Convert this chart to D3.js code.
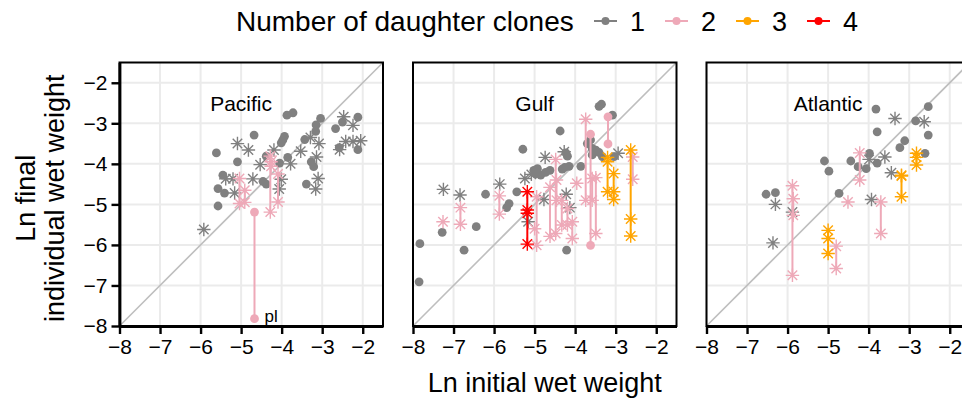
<!DOCTYPE html>
<html>
<head>
<meta charset="utf-8">
<script src="https://cdn.jsdelivr.net/npm/d3@7"></script>
<style>
  body { margin: 0; background: #fff; }
  svg { font-family: "Liberation Sans", Arial, Helvetica, sans-serif; display: block; }
</style>
</head>
<body>
<svg id="chart"></svg>
<script>
// --- data ---
const regions = ['Pacific', 'Gulf', 'Atlantic'];
const cloneCounts = [1, 2, 3, 4];
const cloneColours = ['#808080', '#eea9b8', '#ffa500', '#ff0000'];
const axisTicks = [-8, -7, -6, -5, -4, -3, -2];
const axisDomain = [-8, -1.5];

// rows: [ln initial wet weight, daughter clones, marker ('o' dot, '*' star), ln final weights...]
const pacific = [
  [-3.87, 1, 'o', -2.80], [-3.72, 1, 'o', -2.74], [-2.12, 1, 'o', -2.85], [-2.67, 1, 'o', -3.13],
  [-2.50, 1, 'o', -2.97], [-3.04, 1, 'o', -2.88], [-3.15, 1, 'o', -3.04], [-3.16, 1, 'o', -3.20],
  [-4.68, 1, 'o', -3.29], [-3.93, 1, 'o', -3.32], [-3.97, 1, 'o', -3.41], [-4.01, 1, 'o', -3.48],
  [-3.43, 1, 'o', -3.40], [-5.61, 1, 'o', -3.73], [-5.09, 1, 'o', -3.95], [-2.12, 1, 'o', -3.65],
  [-2.58, 1, 'o', -3.60], [-4.38, 1, 'o', -3.81], [-3.85, 1, 'o', -3.84], [-4.05, 1, 'o', -3.98],
  [-3.27, 1, 'o', -3.95], [-3.21, 1, 'o', -4.07], [-5.45, 1, 'o', -4.28], [-4.46, 1, 'o', -4.43],
  [-4.38, 1, 'o', -4.50], [-3.39, 1, 'o', -4.50], [-5.57, 1, 'o', -4.61], [-5.41, 1, 'o', -4.72],
  [-5.57, 1, 'o', -5.04],
  [-2.47, 1, '*', -2.84], [-2.24, 1, '*', -3.05], [-2.57, 1, '*', -3.65], [-2.42, 1, '*', -3.45],
  [-2.24, 1, '*', -3.45], [-2.05, 1, '*', -3.43], [-5.09, 1, '*', -3.50], [-4.82, 1, '*', -3.66],
  [-3.29, 1, '*', -3.35], [-3.08, 1, '*', -3.50], [-3.53, 1, '*', -3.69], [-4.19, 1, '*', -3.66],
  [-4.53, 1, '*', -4.02], [-3.78, 1, '*', -4.00], [-3.14, 1, '*', -3.83], [-3.10, 1, '*', -4.36],
  [-3.16, 1, '*', -4.62], [-5.38, 1, '*', -4.37], [-5.20, 1, '*', -4.37], [-4.71, 1, '*', -4.37],
  [-4.01, 1, '*', -4.38], [-5.16, 1, '*', -4.72], [-4.06, 1, '*', -4.62], [-5.92, 1, '*', -5.62],
  [-5.04, 2, '*', -4.36, -4.98], [-4.91, 2, '*', -4.65, -4.95], [-4.67, 2, 'o', -5.19, -7.82],
  [-4.28, 2, '*', -3.81, -5.19], [-4.26, 2, '*', -3.95, -4.06], [-4.09, 2, '*', -4.25, -4.94]
];

const gulf = [
  [-7.83, 1, 'o', -5.97], [-7.85, 1, 'o', -6.91], [-7.28, 1, 'o', -5.69], [-6.74, 1, 'o', -6.13],
  [-6.44, 1, 'o', -5.55], [-6.21, 1, 'o', -4.75], [-5.69, 1, 'o', -5.08], [-5.63, 1, 'o', -4.98],
  [-5.44, 1, 'o', -4.69], [-5.29, 1, 'o', -3.64], [-4.37, 1, 'o', -3.19], [-5.02, 1, 'o', -4.16],
  [-4.93, 1, 'o', -4.12], [-4.85, 1, 'o', -4.28], [-4.73, 1, 'o', -4.21], [-4.62, 1, 'o', -4.16],
  [-4.32, 1, 'o', -4.13], [-4.26, 1, 'o', -4.09], [-4.15, 1, 'o', -4.06], [-4.19, 1, 'o', -3.81],
  [-4.23, 1, 'o', -3.73], [-3.86, 1, 'o', -4.06], [-3.41, 1, 'o', -2.58], [-3.35, 1, 'o', -2.53],
  [-3.08, 1, 'o', -2.80], [-3.70, 1, 'o', -3.50], [-3.62, 1, 'o', -3.41], [-3.58, 1, 'o', -3.62],
  [-3.49, 1, 'o', -3.66], [-3.58, 1, 'o', -3.78], [-3.41, 1, 'o', -3.72], [-3.33, 1, 'o', -3.82],
  [-3.04, 1, 'o', -3.82], [-4.21, 1, 'o', -6.13], [-4.98, 1, 'o', -4.25],
  [-7.25, 1, '*', -4.63], [-6.84, 1, '*', -4.77], [-5.86, 1, '*', -4.50], [-5.24, 1, '*', -4.36],
  [-5.08, 1, '*', -4.26], [-4.74, 1, '*', -3.84], [-4.27, 1, '*', -3.70], [-4.77, 1, '*', -4.88],
  [-4.22, 1, '*', -4.75], [-4.13, 1, '*', -5.08], [-2.94, 1, '*', -3.74], [-5.16, 1, '*', -5.43],
  [-7.26, 2, '*', -5.43], [-6.83, 2, '*', -5.08, -5.49], [-5.87, 2, '*', -4.79, -5.24],
  [-4.95, 2, '*', -4.81, -6.01], [-5.00, 2, '*', -5.60], [-4.62, 2, '*', -4.58, -5.79],
  [-4.48, 2, '*', -3.89, -5.72], [-4.46, 2, '*', -4.40, -4.90], [-4.33, 2, '*', -4.90, -5.51],
  [-4.19, 2, '*', -5.10, -5.51], [-4.07, 2, '*', -5.43, -5.84], [-3.96, 2, '*', -4.48],
  [-3.74, 2, '*', -2.90, -4.90], [-3.62, 2, 'o', -3.27, -6.01], [-3.58, 2, '*', -4.36, -4.90],
  [-3.49, 2, '*', -4.34, -5.72], [-3.19, 2, 'o', -2.84, -3.51], [-2.58, 2, '*', -3.83, -4.38],
  [-3.20, 3, '*', -3.84, -3.95, -4.69], [-3.05, 3, '*', -4.24, -4.69, -4.88],
  [-2.63, 3, '*', -3.66, -5.36, -5.78],
  [-5.18, 4, '*', -4.69, -5.14, -5.22, -5.98]
];

const atlantic = [
  [-6.53, 1, 'o', -4.75], [-6.30, 1, 'o', -4.71], [-5.09, 1, 'o', -3.93], [-4.98, 1, 'o', -4.18],
  [-4.73, 1, 'o', -4.73], [-4.44, 1, 'o', -3.93], [-4.26, 1, 'o', -4.07], [-4.06, 1, 'o', -4.12],
  [-3.98, 1, 'o', -3.74], [-3.79, 1, 'o', -3.98], [-3.82, 1, 'o', -2.65], [-3.79, 1, 'o', -3.21],
  [-3.23, 1, 'o', -3.60], [-3.11, 1, 'o', -3.43], [-2.84, 1, 'o', -2.94], [-2.53, 1, 'o', -2.59],
  [-2.53, 1, 'o', -3.29], [-2.61, 1, 'o', -3.74],
  [-6.30, 1, '*', -5.00], [-5.88, 1, '*', -5.19], [-6.36, 1, '*', -5.95], [-3.99, 1, '*', -3.89],
  [-3.60, 1, '*', -3.83], [-3.35, 1, '*', -2.88], [-2.63, 1, '*', -2.96], [-3.44, 1, '*', -4.22],
  [-3.93, 1, '*', -4.88],
  [-5.88, 2, '*', -4.54, -6.75], [-5.86, 2, '*', -4.86, -5.27], [-4.22, 2, '*', -3.73, -4.40],
  [-4.51, 2, '*', -4.94], [-3.70, 2, '*', -4.94, -5.72], [-4.80, 2, '*', -6.03, -6.58],
  [-5.00, 3, '*', -5.64, -5.84, -6.21], [-3.19, 3, '*', -4.28, -4.30, -4.81],
  [-2.82, 3, '*', -3.74, -3.84, -4.03]
];

const pointLabels = [{ region: 'Pacific', x: -4.67, y: -7.82, text: 'pl' }];

// 8-armed star like ggplot shape 8
const starSymbol = {
  draw(context, size) {
    const r = Math.sqrt(size) / 2;
    const a = r * Math.SQRT1_2;
    context.moveTo(0, -r); context.lineTo(0, r);
    context.moveTo(-r, 0); context.lineTo(r, 0);
    context.moveTo(-a, -a); context.lineTo(a, a);
    context.moveTo(-a, a); context.lineTo(a, -a);
  }
};

class CloneScatter {

  constructor(_config, _data) {
    this.config = {
      parentElement: _config.parentElement,
      containerWidth: _config.containerWidth || 962,
      containerHeight: _config.containerHeight || 406,
      panelLefts: _config.panelLefts || [119.5, 413, 706.5],
      panelTop: _config.panelTop || 62.5,
      panelSize: _config.panelSize || 263.5
    };
    this.data = _data;
    this.initVis();
  }

  initVis() {
    let vis = this;
    const size = vis.config.panelSize;

    vis.svg = d3.select(vis.config.parentElement)
      .attr('width', vis.config.containerWidth)
      .attr('height', vis.config.containerHeight);

    vis.xScale = d3.scaleLinear().domain(axisDomain).range([0, size]);
    vis.yScale = d3.scaleLinear().domain(axisDomain).range([size, 0]);
    vis.colour = d3.scaleOrdinal().domain(cloneCounts).range(cloneColours);

    vis.star = d3.symbol().type(starSymbol).size(180);

    vis.panels = vis.svg.selectAll('.panel')
      .data(regions)
      .join('g')
      .attr('class', 'panel')
      .attr('transform', (d, i) => `translate(${vis.config.panelLefts[i]},${vis.config.panelTop})`);

    // grid
    vis.panels.each(function() {
      const g = d3.select(this);
      g.selectAll('.vgrid').data(axisTicks).join('line')
        .attr('x1', d => vis.xScale(d)).attr('x2', d => vis.xScale(d))
        .attr('y1', 0).attr('y2', size)
        .attr('stroke', '#ebebeb').attr('stroke-width', 2);
      g.selectAll('.hgrid').data(axisTicks).join('line')
        .attr('y1', d => vis.yScale(d)).attr('y2', d => vis.yScale(d))
        .attr('x1', 0).attr('x2', size)
        .attr('stroke', '#ebebeb').attr('stroke-width', 2);
      // 1:1 line
      g.append('line')
        .attr('x1', vis.xScale(axisDomain[0])).attr('y1', vis.yScale(axisDomain[0]))
        .attr('x2', vis.xScale(axisDomain[1])).attr('y2', vis.yScale(axisDomain[1]))
        .attr('stroke', '#bebebe').attr('stroke-width', 1.6);
    });

    // facet labels
    vis.panels.append('text')
      .attr('x', vis.xScale(-5))
      .attr('y', vis.yScale(-2.5))
      .attr('dy', '0.36em')
      .attr('text-anchor', 'middle')
      .style('font-size', '21px')
      .text(d => d);

    vis.renderVis();
  }

  renderVis() {
    let vis = this;
    const size = vis.config.panelSize;

    vis.panels.each(function(region) {
      const g = d3.select(this);
      const rows = vis.data[region]
        .map(r => ({ x: r[0], clones: r[1], marker: r[2], ys: r.slice(3) }))
        .sort((a, b) => a.clones - b.clones);

      const fam = g.selectAll('.family').data(rows).join('g').attr('class', 'family');

      fam.filter(d => d.ys.length > 1).append('line')
        .attr('x1', d => vis.xScale(d.x)).attr('x2', d => vis.xScale(d.x))
        .attr('y1', d => vis.yScale(d3.max(d.ys))).attr('y2', d => vis.yScale(d3.min(d.ys)))
        .attr('stroke', d => vis.colour(d.clones))
        .attr('stroke-width', 2);

      fam.each(function(d) {
        const pts = d3.select(this).selectAll('.pt')
          .data(d.ys.map(y => ({ x: d.x, y: y, clones: d.clones, marker: d.marker })))
          .join(enter => enter.append(p => document.createElementNS('http://www.w3.org/2000/svg', p.marker === 'o' ? 'circle' : 'path')))
          .attr('class', 'pt');
        pts.filter(p => p.marker === 'o')
          .attr('cx', p => vis.xScale(p.x))
          .attr('cy', p => vis.yScale(p.y))
          .attr('r', 4.4)
          .attr('fill', p => vis.colour(p.clones));
        pts.filter(p => p.marker === '*')
          .attr('transform', p => `translate(${vis.xScale(p.x)},${vis.yScale(p.y)})`)
          .attr('d', vis.star)
          .attr('fill', 'none')
          .attr('stroke', p => vis.colour(p.clones))
          .attr('stroke-width', 1.4);
      });

      g.selectAll('.pt-label')
        .data(pointLabels.filter(l => l.region === region))
        .join('text')
        .attr('class', 'pt-label')
        .attr('x', l => vis.xScale(l.x) + 10)
        .attr('y', l => vis.yScale(l.y))
        .attr('dy', '0.2em')
        .style('font-size', '17px')
        .text(l => l.text);

      // frame
      g.append('rect')
        .attr('width', size).attr('height', size)
        .attr('fill', 'none').attr('stroke', '#000').attr('stroke-width', 2);

      // x axis on every panel
      const xAxisG = g.append('g')
        .attr('transform', `translate(0,${size})`)
        .call(d3.axisBottom(vis.xScale).tickValues(axisTicks).tickFormat(d3.format('d'))
          .tickSize(8).tickPadding(5).tickSizeOuter(0));
      vis.styleAxis(xAxisG);
    });

    // y axis only on the first panel
    const yAxisG = vis.panels.filter((d, i) => i === 0).append('g')
      .call(d3.axisLeft(vis.yScale).tickValues(axisTicks).tickFormat(d3.format('d'))
        .tickSize(8).tickPadding(4).tickSizeOuter(0));
    vis.styleAxis(yAxisG);

    // axis titles
    const plotLeft = vis.config.panelLefts[0];
    const plotRight = vis.config.panelLefts[2] + size;
    vis.svg.append('text')
      .attr('x', (plotLeft + plotRight) / 2)
      .attr('y', 392)
      .attr('text-anchor', 'middle')
      .style('font-size', '27px')
      .text('Ln initial wet weight');

    const yTitle = vis.svg.append('text')
      .attr('transform', `translate(0,${vis.config.panelTop + size / 2 + 4}) rotate(-90)`)
      .attr('text-anchor', 'middle')
      .style('font-size', '27px');
    yTitle.append('tspan').attr('x', 0).attr('y', 35).text('Ln final');
    yTitle.append('tspan').attr('x', 0).attr('y', 64).text('individual wet weight');

    // legend
    const legend = vis.svg.append('g').attr('transform', 'translate(236,21)');
    legend.append('text')
      .attr('y', 10)
      .style('font-size', '28px')
      .text('Number of daughter clones');
    const item = legend.selectAll('.key')
      .data(cloneCounts)
      .join('g')
      .attr('class', 'key')
      .attr('transform', (d, i) => `translate(${358 + i * 71},0)`);
    item.append('line')
      .attr('x1', 0).attr('x2', 23)
      .attr('stroke', d => vis.colour(d)).attr('stroke-width', 2);
    item.append('circle')
      .attr('cx', 11.5).attr('r', 4)
      .attr('fill', d => vis.colour(d));
    item.append('text')
      .attr('x', 36).attr('y', 10)
      .style('font-size', '27px')
      .text(d => d);
  }

  styleAxis(axisG) {
    axisG.select('.domain').attr('stroke', '#000').attr('stroke-width', 2.8);
    axisG.selectAll('.tick line').attr('stroke', '#000').attr('stroke-width', 2.4);
    axisG.selectAll('.tick text').attr('fill', '#000').style('font-size', '21px').attr('font-family', null);
  }
}

const cloneScatter = new CloneScatter({ parentElement: '#chart' },
  { Pacific: pacific, Gulf: gulf, Atlantic: atlantic });
</script>
</body>
</html>
